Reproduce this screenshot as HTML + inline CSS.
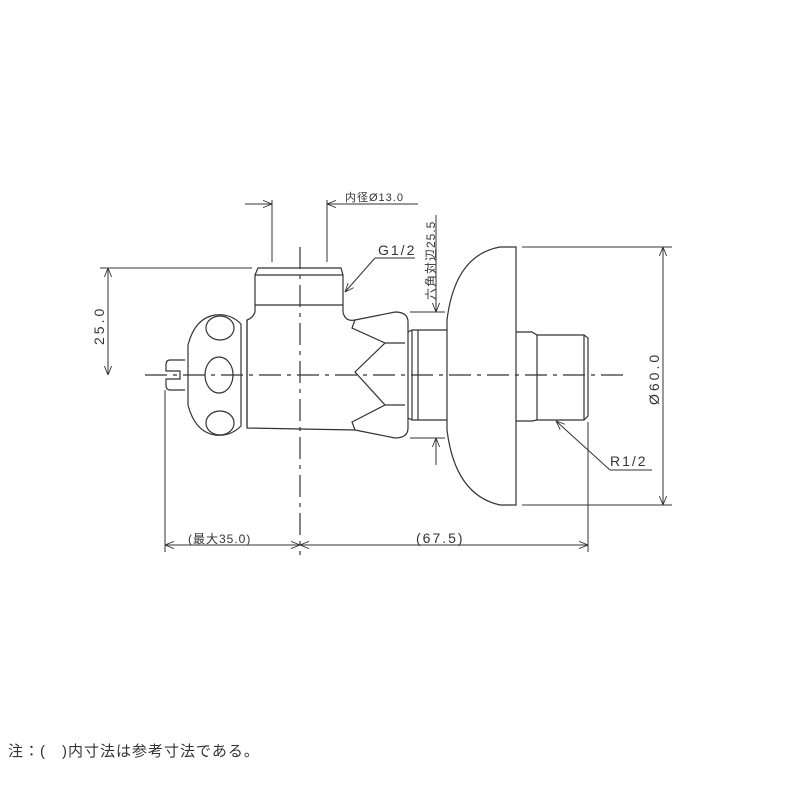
<!DOCTYPE html><html><head><style>body{margin:0;background:#fff}svg{display:block}text{font-family:"Liberation Sans","Noto Sans CJK JP",sans-serif;fill:#333}</style></head><body>
<svg width="800" height="800" viewBox="0 0 800 800" xmlns="http://www.w3.org/2000/svg">
<defs><marker id="a" viewBox="0 0 10 10" refX="10" refY="5" markerWidth="9" markerHeight="9" orient="auto-start-reverse"><path d="M0,1 L10,5 L0,9" fill="none" stroke="#333" stroke-width="1"/></marker></defs>
<g fill="none" stroke="#333" stroke-width="1.2">
<path d="M145,375 H625" stroke-dasharray="22,6,4,6"/>
<path d="M300,247 V555" stroke-dasharray="22,6,4,6"/>
<path d="M255,312 V275 L258,268 H341 L343,275 V312"/>
<path d="M255,305 H343 M255,275 H343"/>
<path d="M343,312 Q345,322 355,320 L395,312 Q408,312 408,322 V428 Q408,438 395,438 L355,430 L247,428 V320 Q253,318 255,312"/>
<path d="M355,320 L352,328 L385,343 L355,372 L385,405 L352,422 L355,430"/>
<path d="M385,343 H405 M385,405 H405"/>
<path d="M247,320 V428 M241,324 V426"/>
<path d="M241,324 Q230,313 215,315 Q195,318 188,345 V405 Q195,432 215,435 Q230,437 241,426"/>
<ellipse cx="220" cy="328" rx="14" ry="12"/><ellipse cx="219" cy="375" rx="14" ry="18"/><ellipse cx="220" cy="423" rx="14" ry="12"/>
<path d="M185,360 H170 Q166,360 166,365 V371 H180 V379 H166 V385 Q166,390 170,390 H185"/>
<path d="M408,332 L412,330 H447 M408,418 L412,420 H447 M412,330 V420 M418,330 V420"/>
<path d="M516,247 H500 Q455,255 447,320 V430 Q455,495 500,505 H516 Z"/>
<path d="M516,332 H532 L537,335 H584 L588,338 V416 L584,420 H537 L532,421 H516"/>
<path d="M537,335 V420 M584,335 V420"/>
<g stroke-width="1">
<path d="M100,268 H252"/>
<path d="M108,268 V375" marker-start="url(#a)" marker-end="url(#a)"/>
<path d="M272,200 V262 M327,200 V262"/>
<path d="M245,204 H272" marker-end="url(#a)"/><path d="M355,204 H327" marker-end="url(#a)"/><path d="M327,204 H418"/>
<path d="M375,258 H415"/><path d="M375,258 L345,292" marker-end="url(#a)"/>
<path d="M436,215 V312" marker-end="url(#a)"/><path d="M436,465 V438" marker-end="url(#a)"/>
<path d="M410,312 H445 M410,438 H445"/>
<path d="M522,247 H672 M522,505 H672"/>
<path d="M663,247 V505" marker-start="url(#a)" marker-end="url(#a)"/>
<path d="M652,470 H610"/><path d="M610,470 L556,421" marker-end="url(#a)"/>
<path d="M165,390 V552 M588,422 V552"/>
<path d="M165,545 H300" marker-start="url(#a)" marker-end="url(#a)"/>
<path d="M300,545 H588" marker-start="url(#a)" marker-end="url(#a)"/>
</g></g>
<text x="345" y="201" font-size="11" letter-spacing="1">内径Ø13.0</text>
<text x="378" y="255" font-size="14" letter-spacing="2">G1/2</text>
<text transform="translate(435,300) rotate(-90)" font-size="12" letter-spacing="1">六角対辺25.5</text>
<text transform="translate(104,345) rotate(-90)" font-size="14" letter-spacing="3">25.0</text>
<text transform="translate(659,405) rotate(-90)" font-size="14" letter-spacing="3">Ø60.0</text>
<text x="610" y="466" font-size="14" letter-spacing="2">R1/2</text>
<text x="188" y="543" font-size="12" letter-spacing="1">(最大35.0)</text>
<text x="416" y="543" font-size="14" letter-spacing="2">(67.5)</text>
<text x="8" y="756" font-size="15" letter-spacing="1">注：(　)内寸法は参考寸法である。</text>
</svg></body></html>
